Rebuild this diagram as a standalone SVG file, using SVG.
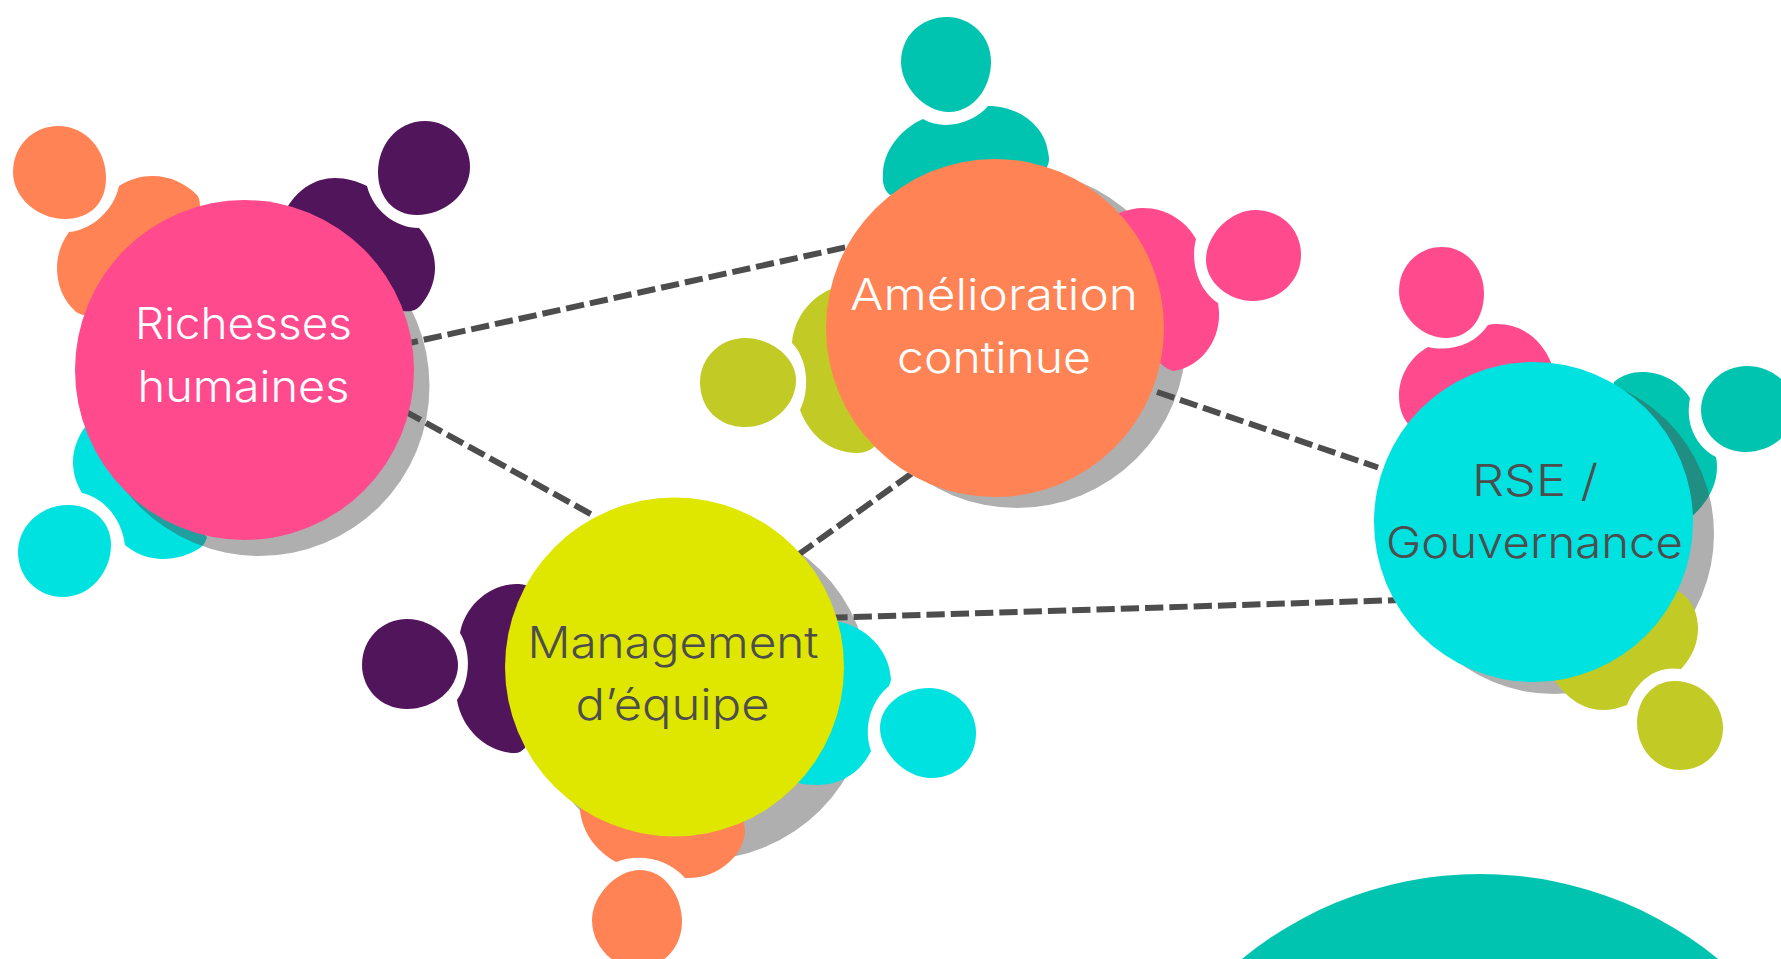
<svg xmlns="http://www.w3.org/2000/svg" width="1781" height="959" viewBox="0 0 1781 959">
<style>
.pink{fill:#ff4a8e}.orange{fill:#ff8354}.purple{fill:#50155a}.cyan{fill:#00e2e0}.lime{fill:#dfe600}.olive{fill:#c2ca26}.teal{fill:#00c4b0}
.shadow{fill:#484848;fill-opacity:.44}
.label{font-family:Inter,"Liberation Sans",sans-serif;font-weight:300;font-size:44px;text-anchor:middle}
.light{fill:#fff}.dark{fill:#4d4d4d}
.link{fill:none;stroke:#4d4d4d;stroke-width:6;stroke-dasharray:18.3 6}
</style>
<defs>
<clipPath id="outside"><path clip-rule="evenodd" d="M0 0H1781V959H0Z M75 370a169.5 170 0 1 0 339 0a169.5 170 0 1 0 -339 0Z M826 328a169 169 0 1 0 338 0a169 169 0 1 0 -338 0Z M505 667a169.5 169.5 0 1 0 339 0a169.5 169.5 0 1 0 -339 0Z M1374 522a159.500 160 0 1 0 319 0a159.500 160 0 1 0 -319 0Z"/></clipPath>
</defs>
<circle id="backdrop" class="teal" cx="1480" cy="1250" r="376"/>
<g id="node-richesses">
<path class="cyan" d="M82 493C76 483 73 473 73 462C73 449 78 437 85 427L207 537C206 541 204 545 200 548C189 555 176 559 163 559C149 559 136 554 125 545C122 520 105 498 82 493Z"/>
<path class="cyan" d="M68 505C92 505 111 521 111 545C111 572 90 597 63 597C38 597 18 578 18 552C18 525 42 505 68 505Z"/>
<circle class="shadow" cx="259.500" cy="386" r="170"/>
<path class="orange" d="M119 186C130 179 141 176 152 176C171 176 186 184 197 195C200 199 200 203 200 210L200 300L83 315C80 314 78 313 76 312C63 300 57 285 57 268C57 255 61 243 69 232C92 230 114 210 119 186Z"/>
<path class="orange" d="M58 126C86 126 106 150 106 178C106 203 90 219 65 219C38 219 13 198 13 172C13 146 33 126 58 126Z"/>
<path class="purple" d="M367 186C357 181 346 178 335 178C315 178 299 189 288 206L300 310L403 311C410 312 416 311 421 305C430 294 435 281 435 268C435 253 429 239 419 228C395 228 373 210 367 186Z"/>
<path class="purple" d="M425 121C450 121 470 142 470 167C470 195 443 215 417 215C393 215 378 197 378 172C378 145 397 121 425 121Z"/>
<ellipse class="pink" cx="244.500" cy="370" rx="169.500" ry="170"/>
<text class="label light" x="243.500" y="339" textLength="217" lengthAdjust="spacingAndGlyphs">Richesses</text>
<text class="label light" x="243.500" y="402" textLength="212" lengthAdjust="spacingAndGlyphs">humaines</text>
</g>
<g id="node-amelioration">
<circle class="shadow" cx="1017" cy="339" r="169"/>
<path class="teal" d="M923 119C900 129 883 152 883 174C882 184 885 191 890 195L1045 170C1049 165 1050 160 1048 152C1045 127 1020 106 988 106C975 122 945 132 923 119Z"/>
<path class="teal" d="M947 17C971 17 991 36 991 62C991 88 973 112 949 112C924 112 901 86 901 62C901 36 921 17 947 17Z"/>
<path class="pink" d="M1119 213C1127 210 1135 208 1143 208C1166 208 1186 221 1196 239C1190 262 1198 290 1218 303C1224 335 1204 366 1174 371C1169 370 1164 367 1160 363L1100 300Z"/>
<path class="pink" d="M1255 210C1281 210 1301 229 1301 255C1301 280 1280 301 1253 301C1228 301 1206 282 1206 260C1206 233 1232 210 1255 210Z"/>
<path class="olive" d="M831 289C810 298 794 318 792 343C807 358 811 388 800 410C810 437 832 453 857 453C865 453 871 450 875 446L900 350Z"/>
<path class="olive" d="M745 338C772 338 796 358 796 380C796 406 772 427 745 427C718 427 700 408 700 382C700 358 720 338 745 338Z"/>
<circle class="orange" cx="995" cy="328" r="169"/>
<text class="label light" x="994" y="310" textLength="288" lengthAdjust="spacingAndGlyphs">Amélioration</text>
<text class="label light" x="994" y="372.500" textLength="194" lengthAdjust="spacingAndGlyphs">continue</text>
</g>
<g id="node-management">
<circle class="shadow" cx="700" cy="690" r="170"/>
<path class="purple" d="M517 584C489 584 465 606 460 633C471 650 471 680 457 700C462 730 488 753 515 753C519 753 522 751 525 748L540 590L525 585C522 584 520 584 517 584Z"/>
<path class="purple" d="M407 619C434 619 458 642 458 665C458 690 433 709 407 709C380 709 362 688 362 665C362 639 382 619 407 619Z"/>
<path class="cyan" d="M835 621C865 625 890 650 891 680L889 686C870 702 863 728 871 751C861 772 841 785 818 785C810 785 803 784 797 783L780 640Z"/>
<path class="cyan" d="M929 688C955 688 976 708 976 733C976 758 958 778 931 778C905 778 880 752 880 728C880 705 903 688 929 688Z"/>
<path class="orange" d="M580 810C582 832 596 851 616 862C638 853 668 858 685 878C717 880 745 855 745 830L740 790L580 800Z"/>
<path class="orange" d="M640 870C664 870 682 895 682 922C682 948 662 968 638 968C612 968 592 945 592 920C592 896 616 870 640 870Z"/>
<circle class="lime" cx="674.500" cy="667" r="169.500"/>
<text class="label dark" x="673" y="658" textLength="291" lengthAdjust="spacingAndGlyphs">Management</text>
<text class="label dark" x="672.500" y="720" textLength="194" lengthAdjust="spacingAndGlyphs">d’équipe</text>
</g>
<g id="node-rse">
<path class="teal" d="M1614 382C1622 375 1632 372 1642 372C1662 372 1680 382 1690 398C1685 423 1695 446 1716 457C1720 477 1712 500 1690 518L1600 450Z"/>
<path class="teal" d="M1747 366C1772 366 1795 385 1795 408C1795 433 1772 452 1745 452C1720 452 1701 432 1701 410C1701 386 1722 366 1747 366Z"/>
<ellipse class="shadow" cx="1554" cy="534" rx="160" ry="160"/>
<path class="pink" d="M1428 347C1410 357 1399 376 1399 396C1399 408 1402 416 1408 424L1552 365C1543 340 1522 324 1497 324C1493 324 1491 324 1488 325C1475 345 1450 352 1428 347Z"/>
<path class="pink" d="M1442 247C1466 247 1484 268 1484 293C1484 318 1470 338 1446 338C1422 338 1399 316 1399 291C1399 266 1418 247 1442 247Z"/>
<path class="olive" d="M1675 590C1690 595 1698 612 1698 628C1698 644 1692 657 1681 669C1655 665 1636 682 1627 705C1619 708 1611 710 1603 710C1583 710 1567 698 1555 681L1600 600Z"/>
<path class="olive" d="M1675 681C1701 681 1723 703 1723 728C1723 752 1704 770 1680 770C1655 770 1637 748 1637 723C1637 700 1652 681 1675 681Z"/>
<ellipse class="cyan" cx="1533.500" cy="522" rx="159.500" ry="160"/>
<text class="label dark" x="1535" y="496" textLength="126" lengthAdjust="spacingAndGlyphs">RSE /</text>
<text class="label dark" x="1534.500" y="557.500" textLength="297" lengthAdjust="spacingAndGlyphs">Gouvernance</text>
</g>
<g id="connectors" clip-path="url(#outside)">
<path class="link" d="M400 345L847 247"/>
<path class="link" d="M404.600 411.100L592.500 515"/>
<path class="link" d="M797.900 555L918 469"/>
<path class="link" d="M1157 392L1378 467.500"/>
<path class="link" d="M829.300 617.800L1400 600"/>
</g>
</svg>
